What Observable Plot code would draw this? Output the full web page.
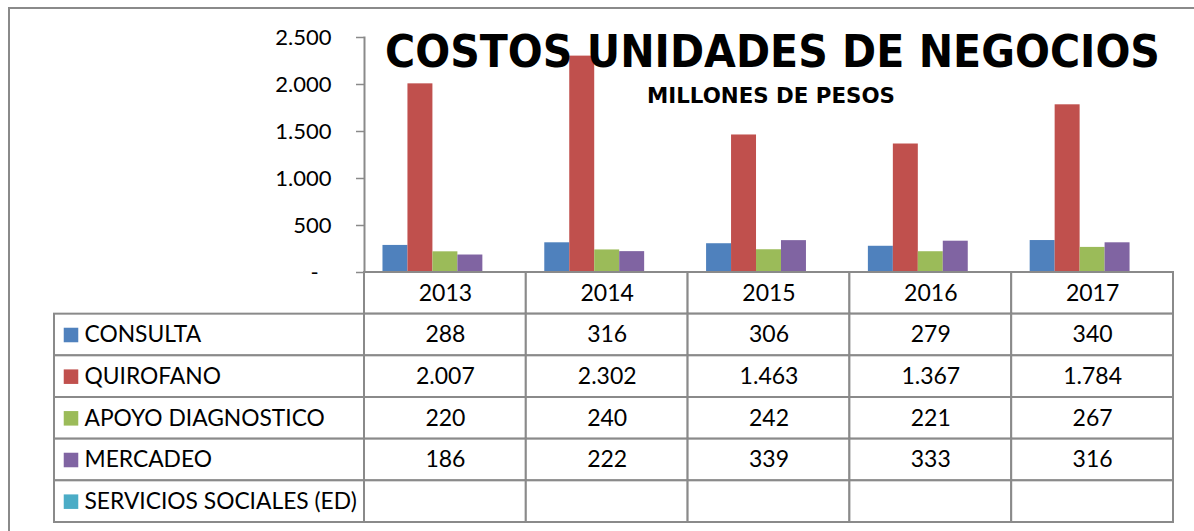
<!DOCTYPE html>
<html><head><meta charset="utf-8">
<script src="https://cdn.jsdelivr.net/npm/d3@7"></script>
<script src="https://cdn.jsdelivr.net/npm/@observablehq/plot@0.6"></script>
<style>
body{margin:0;background:#fff;}
#root{position:relative;width:1194px;height:531px;overflow:hidden;background:#fff;font-family:Lato,sans-serif;}
#frame{position:absolute;left:8px;top:7px;width:1300px;height:700px;border-top:2px solid #8a8a8a;border-left:2px solid #8a8a8a;}
.abs{position:absolute;}
.ttl{position:absolute;font-family:"DejaVu Sans",sans-serif;font-weight:bold;white-space:nowrap;line-height:1;transform-origin:left top;color:#000;}
</style></head>
<body><div id="root"><div id="frame"></div></div>
<script>
const years = ["2013","2014","2015","2016","2017"];
const series = ["CONSULTA","QUIROFANO","APOYO DIAGNOSTICO","MERCADEO","SERVICIOS SOCIALES (ED)"];
const colors = ["#4F81BD","#C0504D","#9BBB59","#8064A2","#4BACC6"];
const consulta = [288,316,306,279,340];
const quirofano = [2007,2302,1463,1367,1784];
const apoyo = [220,240,242,221,267];
const mercadeo = [186,222,339,333,316];
const servicios = [null,null,null,null,null];
const yTicks = [0,500,1000,1500,2000,2500];
const titleText = "COSTOS UNIDADES DE NEGOCIOS";
const subtitleText = "MILLONES DE PESOS";

const valuesBySeries = [consulta, quirofano, apoyo, mercadeo, servicios];
const records = [];
series.forEach((s, i) => years.forEach((y, j) => records.push({year: y, series: s, value: valuesBySeries[i][j]})));
const fmt = d3.formatLocale({decimal: ",", thousands: ".", grouping: [3], currency: ["$", ""]}).format(",d");
const rows = ["", ...series];
const cells = [];
years.forEach(y => cells.push({year: y, row: "", text: y}));
records.forEach(d => cells.push({year: d.year, row: d.series, text: d.value == null ? "" : fmt(d.value)}));

const grey = "#8a8a8a";
const root = document.getElementById("root");
function place(node, left, top) {
  const w = document.createElement("div");
  w.className = "abs"; w.style.left = left + "px"; w.style.top = top + "px";
  w.appendChild(node); root.appendChild(w);
}

const chart = Plot.plot({
  width: 1194, height: 280, marginTop: 37, marginBottom: 8, marginLeft: 364, marginRight: 21,
  style: {fontFamily: "Lato, sans-serif", fontSize: "22px", background: "transparent", overflow: "visible"},
  fx: {domain: years, padding: 0, axis: null, round: false},
  x: {domain: series, paddingInner: 0, paddingOuter: 0.74, axis: null, round: false},
  y: {domain: [0, 2500], axis: null},
  color: {domain: series, range: colors},
  marks: [
    Plot.barY(records.filter(d => d.value != null), {fx: "year", x: "series", y: "value", fill: "series", inset: 0}),
    Plot.ruleY([0], {stroke: grey, strokeWidth: 2}),
    Plot.axisY({ticks: yTicks, tickFormat: d => d === 0 ? "-\u2007" : fmt(d), tickSize: 8, tickPadding: 25, label: null,
      stroke: grey, strokeWidth: 1.5, fill: "#000", fontSize: 22}),
    Plot.frame({anchor: "left", facetAnchor: "left", stroke: grey, strokeWidth: 2})
  ]
});
place(chart, 0, 0);

const table = Plot.plot({
  width: 1194, height: 252, marginTop: 0, marginBottom: 2, marginLeft: 364, marginRight: 21,
  style: {fontFamily: "Lato, sans-serif", fontSize: "23px", background: "transparent", overflow: "visible"},
  x: {domain: years, padding: 0, axis: null, round: false},
  y: {domain: rows, padding: 0, axis: null, round: false},
  marks: [
    Plot.cell(cells, {x: "year", y: "row", fill: "white", stroke: grey, strokeWidth: 2, inset: 0}),
    Plot.text(cells, {x: "year", y: "row", text: "text", fontSize: 23, fill: "#000"})
  ]
});
place(table, 0, 272);

const labels = Plot.plot({
  width: 312, height: 252, marginTop: 0, marginBottom: 2, marginLeft: 1, marginRight: 1,
  style: {fontFamily: "Lato, sans-serif", fontSize: "22px", background: "transparent", overflow: "visible"},
  y: {domain: rows, padding: 0, axis: null, round: false},
  color: {domain: series, range: colors},
  marks: [
    Plot.cell(series, {y: d => d, fill: "white", stroke: grey, strokeWidth: 2, inset: 0}),
    Plot.dot(series, {y: d => d, frameAnchor: "left", dx: 16.5, symbol: "square", r: 8.2, fill: d => d}),
    Plot.text(series, {y: d => d, text: d => d, frameAnchor: "left", dx: 30, textAnchor: "start", fontSize: 22.8, fill: "#000"})
  ]
});
place(labels, 53, 272);

function addTitle(text, left, capTop, width, size) {
  const el = document.createElement("div");
  el.className = "ttl"; el.textContent = text; el.style.fontSize = size + "px";
  el.style.left = left + "px"; el.style.top = (capTop - 0.117 * size) + "px";
  root.appendChild(el);
  const w = el.getBoundingClientRect().width;
  el.style.transform = `scaleX(${width / w})`;
}
addTitle(titleText, 385, 35, 775, 44);
addTitle(subtitleText, 647, 88, 248, 22);
</script>
</body></html>
